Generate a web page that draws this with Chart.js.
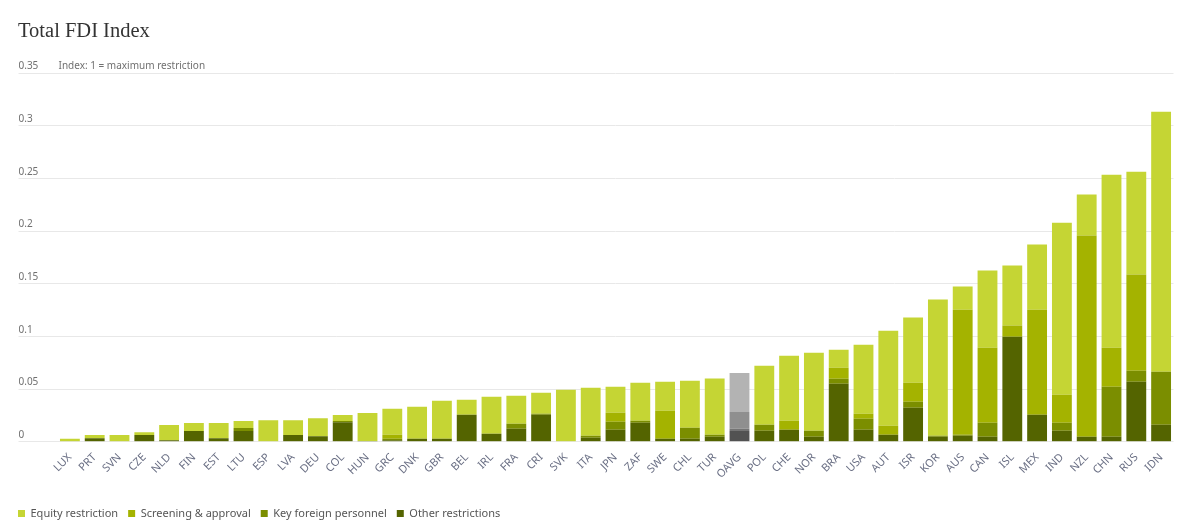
<!DOCTYPE html>
<html>
<head>
<meta charset="utf-8">
<script src="https://cdn.jsdelivr.net/npm/chart.js@4.4.1/dist/chart.umd.min.js"></script>
<style>
html,body{margin:0;padding:0;background:#fff;}
#wrap{width:1190px;height:532px;}
</style>
</head>
<body>
<div id="wrap"><canvas id="c" width="1190" height="532"></canvas></div>
<script>
const titleText = 'Total FDI Index';
const noteText = 'Index: 1 = maximum restriction';
const seriesNames = ['Equity restriction', 'Screening & approval', 'Key foreign personnel', 'Other restrictions'];
const categories = ['LUX','PRT','SVN','CZE','NLD','FIN','EST','LTU','ESP','LVA','DEU','COL','HUN','GRC','DNK','GBR','BEL','IRL','FRA','CRI','SVK','ITA','JPN','ZAF','SWE','CHL','TUR','OAVG','POL','CHE','NOR','BRA','USA','AUT','ISR','KOR','AUS','CAN','ISL','MEX','IND','NZL','CHN','RUS','IDN'];
const equity = [0.003,0.003,0.0065,0.0028,0.0143,0.0076,0.0143,0.0066,0.0206,0.0142,0.0171,0.0057,0.0265,0.0247,0.0304,0.0361,0.0142,0.0352,0.0266,0.0200,0.0494,0.0456,0.0247,0.0361,0.0275,0.0447,0.0533,0.0370,0.0560,0.0617,0.0741,0.0172,0.0656,0.0903,0.0619,0.1292,0.0219,0.0731,0.0570,0.0619,0.1633,0.0389,0.1641,0.0977,0.2468];
const screening = [0,0,0,0,0,0,0,0,0,0,0,0,0,0.0037,0,0,0,0,0,0,0,0,0.0086,0,0.0266,0,0,0.0161,0,0.0086,0,0.0104,0.0047,0.0085,0.0181,0,0.1187,0.0713,0.0105,0.0997,0.0266,0.1910,0.0371,0.0912,0];
const keyPersonnel = [0,0,0,0,0,0,0,0.0029,0,0,0,0.0010,0,0.0015,0,0,0,0,0.0047,0.0009,0,0.0019,0.0076,0.0019,0,0.0104,0.0019,0.0020,0.0057,0,0.0057,0.0048,0.0105,0,0.0057,0.0010,0.0010,0.0133,0,0,0.0076,0,0.0475,0.0105,0.0503];
const other = [0,0.0035,0,0.0064,0.0016,0.0102,0.0035,0.0102,0,0.0064,0.0054,0.0187,0.0008,0.0015,0.0029,0.0029,0.0257,0.0076,0.0124,0.0257,0,0.0038,0.0114,0.0181,0.0029,0.0029,0.0048,0.0103,0.0105,0.0114,0.0048,0.0551,0.0114,0.0067,0.0323,0.0048,0.0057,0.0048,0.0998,0.0257,0.0105,0.0048,0.0048,0.0570,0.0162];
const yMax = 0.35;
const yStep = 0.05;

const greenColors = ['#c5d534', '#a4b300', '#7b8e00', '#546400'];
const greyColors = ['#b3b3b3', '#8f8f8f', '#747474', '#525252'];
const highlight = 'OAVG';
const colorsFor = (i) => categories.map(c => c === highlight ? greyColors[i] : greenColors[i]);

const sansFont = '"Noto Sans", "Open Sans", sans-serif';

const textPlugin = {
  id: 'texts',
  afterDraw(chart) {
    const ctx = chart.ctx;
    ctx.save();
    ctx.fillStyle = '#333333';
    ctx.font = '20.5px "Liberation Serif", serif';
    ctx.textAlign = 'left';
    ctx.textBaseline = 'alphabetic';
    ctx.fillText(titleText, 18, 37);
    ctx.fillStyle = '#707070';
    ctx.font = '10px ' + sansFont;
    ctx.textBaseline = 'middle';
    ctx.fillText(noteText, chart.chartArea.left + 1, chart.scales.y.getPixelForValue(yMax) - 6.5);
    ctx.restore();
  }
};

const datasets = [
  { label: seriesNames[3], data: other, backgroundColor: colorsFor(3) },
  { label: seriesNames[2], data: keyPersonnel, backgroundColor: colorsFor(2) },
  { label: seriesNames[1], data: screening, backgroundColor: colorsFor(1) },
  { label: seriesNames[0], data: equity, backgroundColor: colorsFor(0) }
].map(d => Object.assign(d, { borderWidth: 0, barPercentage: 0.8, categoryPercentage: 1 }));

new Chart(document.getElementById('c'), {
  type: 'bar',
  data: { labels: categories, datasets },
  plugins: [textPlugin],
  options: {
    responsive: false,
    animation: false,
    layout: { padding: { left: 8, right: 16.5, top: 73, bottom: 3 } },
    plugins: {
      title: { display: false },
      tooltip: { enabled: false },
      legend: {
        position: 'bottom',
        align: 'start',
        reverse: true,
        labels: {
          boxWidth: 7,
          boxHeight: 7,
          padding: 10,
          color: '#555555',
          font: { family: sansFont, size: 11 }
        }
      }
    },
    scales: {
      x: {
        stacked: true,
        afterFit(scale) { scale.height = scale.height + 8; },
        grid: { display: false, drawTicks: false },
        border: { display: false },
        ticks: {
          autoSkip: false,
          minRotation: 45,
          maxRotation: 45,
          padding: 9,
          color: '#6b7085',
          font: { family: sansFont, size: 11 }
        }
      },
      y: {
        stacked: true,
        min: 0,
        max: yMax,
        afterFit(scale) { scale.width = 49.5; },
        grid: { color: '#e8e8e8', lineWidth: 1, tickLength: 39, tickColor: '#e8e8e8', drawTicks: true },
        border: { display: false },
        ticks: {
          stepSize: yStep,
          mirror: true,
          crossAlign: 'near',
          padding: -39,
          labelOffset: -6.5,
          color: '#707070',
          font: { family: sansFont, size: 10 },
          callback: (v) => String(+v.toFixed(2))
        }
      }
    }
  }
});
</script>
</body>
</html>
